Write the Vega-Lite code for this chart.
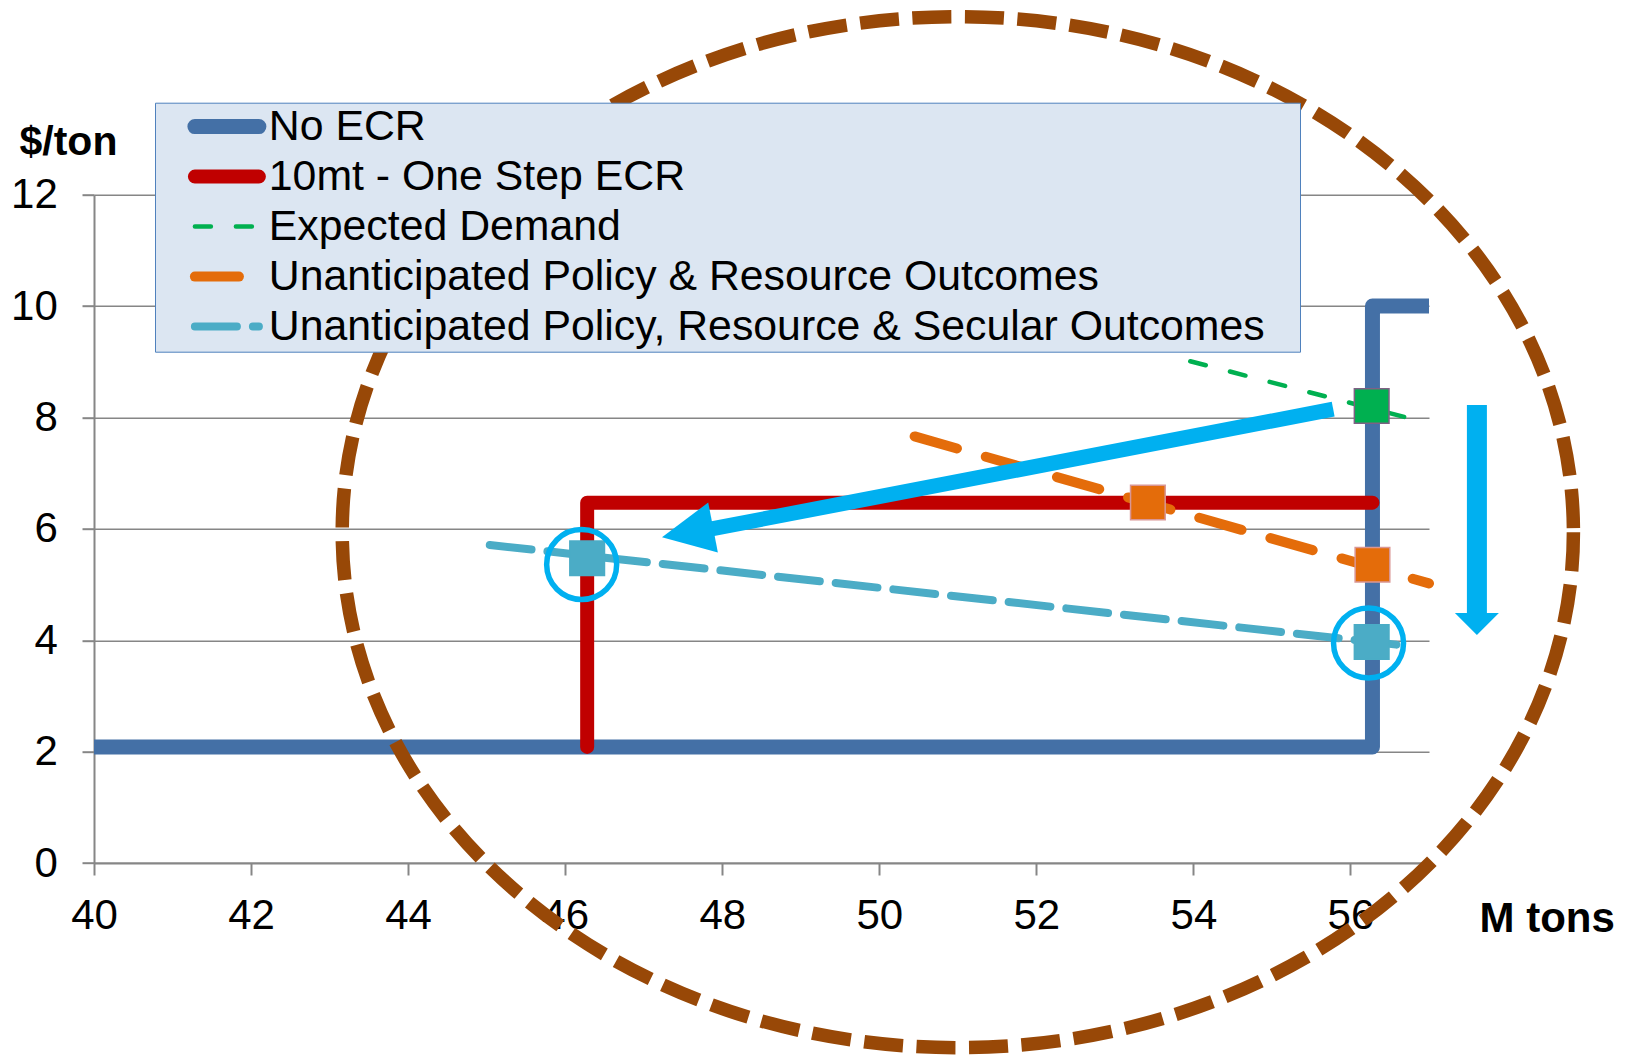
{
  "$schema": "https://vega.github.io/schema/vega-lite/v6.json",
  "autosize": {"type": "none"},
  "padding": {"left": 94, "top": 194.7, "right": 198, "bottom": 192},
  "width": 1335,
  "height": 668.3,
  "background": "#ffffff",
  "config": {
    "view": {"stroke": null},
    "font": "Liberation Sans",
    "legend": {
      "orient": "none",
      "legendX": 61,
      "legendY": -92,
      "padding": 2.5,
      "rowPadding": 6.0,
      "fillColor": "#DCE6F2",
      "strokeColor": "#4F81BD",
      "labelFont": "Liberation Sans",
      "labelFontSize": 42.8,
      "labelColor": "#000000",
      "labelLimit": 0,
      "symbolType": "M -16 0 L 16 0 M 531.3 0",
      "symbolSize": 16,
      "symbolOffset": 48,
      "labelOffset": 20.5,
      "title": null
    }
  },
  "datasets": {
    "lines": [
      {"series": "No ECR", "o": 1, "x": 40, "y": 2.085},
      {"series": "No ECR", "o": 2, "x": 56.28, "y": 2.085},
      {"series": "No ECR", "o": 3, "x": 56.28, "y": 10},
      {"series": "No ECR", "o": 4, "x": 57, "y": 10},
      {"series": "10mt - One Step ECR", "o": 1, "x": 46.28, "y": 2.085},
      {"series": "10mt - One Step ECR", "o": 2, "x": 46.28, "y": 6.47},
      {"series": "10mt - One Step ECR", "o": 3, "x": 56.28, "y": 6.47},
      {"series": "Expected Demand", "o": 1, "x": 53.96, "y": 9.01},
      {"series": "Expected Demand", "o": 2, "x": 56.82, "y": 7.96},
      {"series": "Unanticipated Policy & Resource Outcomes", "o": 1, "x": 50.45, "y": 7.66},
      {"series": "Unanticipated Policy & Resource Outcomes", "o": 2, "x": 57.0, "y": 5.02},
      {"series": "Unanticipated Policy, Resource & Secular Outcomes", "o": 1, "x": 45.04, "y": 5.71},
      {"series": "Unanticipated Policy, Resource & Secular Outcomes", "o": 2, "x": 56.72, "y": 3.9}
    ],
    "squares": [
      {"kind": "Expected Demand", "x": 56.27, "y": 8.206},
      {"kind": "Policy & Resource", "x": 53.42, "y": 6.473},
      {"kind": "Policy & Resource", "x": 56.28, "y": 5.356},
      {"kind": "Policy, Resource & Secular", "x": 46.28, "y": 5.473},
      {"kind": "Policy, Resource & Secular", "x": 56.27, "y": 3.968}
    ],
    "circles": [
      {"x": 46.21, "y": 5.36},
      {"x": 56.23, "y": 3.95}
    ],
    "shafts": [
      {"arrow": "shift", "o": 1, "x": 55.78, "y": 8.15},
      {"arrow": "shift", "o": 2, "x": 47.78, "y": 5.976},
      {"arrow": "drop", "o": 1, "x": 57.61, "y": 8.224},
      {"arrow": "drop", "o": 2, "x": 57.61, "y": 4.417}
    ],
    "heads": [
      {"arrow": "shift", "x": 47.558, "y": 5.936},
      {"arrow": "drop", "x": 57.61, "y": 4.292}
    ],
    "ellipse": [
      {"x": 51.0, "y": 5.94}
    ]
  },
  "encoding": {
    "x": {
      "field": "x",
      "type": "quantitative",
      "scale": {"domain": [40, 57], "nice": false, "zero": false},
      "axis": {
        "values": [40, 42, 44, 46, 48, 50, 52, 54, 56],
        "grid": false,
        "domainColor": "#868686",
        "domainWidth": 2,
        "tickColor": "#868686",
        "tickWidth": 2,
        "tickSize": 12,
        "labelFont": "Liberation Sans",
        "labelFontSize": 42,
        "labelColor": "#000000",
        "labelPadding": 20,
        "labelFlush": false,
        "labelOverlap": false,
        "title": "M tons",
        "titleFont": "Liberation Sans",
        "titleFontSize": 42,
        "titleFontWeight": "bold",
        "titleColor": "#000000",
        "titleAngle": 0,
        "titleAlign": "left",
        "titleBaseline": "alphabetic",
        "titleX": 1385,
        "titleY": 68.7
      }
    },
    "y": {
      "field": "y",
      "type": "quantitative",
      "scale": {"domain": [0, 12], "nice": false, "zero": false},
      "axis": {
        "values": [0, 2, 4, 6, 8, 10, 12],
        "grid": true,
        "gridColor": "#868686",
        "gridWidth": 1.6,
        "domainColor": "#868686",
        "domainWidth": 2,
        "tickColor": "#868686",
        "tickWidth": 2,
        "tickSize": 12,
        "labelFont": "Liberation Sans",
        "labelFontSize": 42,
        "labelColor": "#000000",
        "labelPadding": 24.7,
        "labelOverlap": false,
        "title": "$/ton",
        "titleFont": "Liberation Sans",
        "titleFontSize": 41,
        "titleFontWeight": "bold",
        "titleColor": "#000000",
        "titleAngle": 0,
        "titleAlign": "left",
        "titleBaseline": "alphabetic",
        "titleX": -75,
        "titleY": -40.4
      }
    }
  },
  "layer": [
    {
      "data": {"name": "lines"},
      "transform": [{"filter": "datum.series === 'No ECR'"}],
      "mark": {"type": "line", "strokeCap": "butt", "strokeJoin": "round"},
      "encoding": {
        "order": {"field": "o", "type": "quantitative"},
        "color": {
          "field": "series", "type": "nominal",
          "legend": {"encoding": {"symbols": {"strokeJoin": {"value": "round"}, "strokeCap": {"value": "round"}}}},
          "scale": {
            "domain": ["No ECR", "10mt - One Step ECR", "Expected Demand", "Unanticipated Policy & Resource Outcomes", "Unanticipated Policy, Resource & Secular Outcomes"],
            "range": ["#4470A6", "#C00000", "#00B050", "#E46C0A", "#4BACC6"]
          }
        },
        "strokeDash": {
          "field": "series", "type": "nominal",
          "legend": {"encoding": {"symbols": {"strokeJoin": {"value": "round"}, "strokeCap": {"value": "round"}}}},
          "scale": {
            "domain": ["No ECR", "10mt - One Step ECR", "Expected Demand", "Unanticipated Policy & Resource Outcomes", "Unanticipated Policy, Resource & Secular Outcomes"],
            "range": [[1, 0], [1, 0], [16, 25], [44, 30], [42, 16]]
          }
        },
        "strokeWidth": {
          "field": "series", "type": "nominal",
          "legend": {"encoding": {"symbols": {"strokeJoin": {"value": "round"}, "strokeCap": {"value": "round"}}}},
          "scale": {
            "type": "ordinal",
            "domain": ["No ECR", "10mt - One Step ECR", "Expected Demand", "Unanticipated Policy & Resource Outcomes", "Unanticipated Policy, Resource & Secular Outcomes"],
            "range": [15, 14, 4.5, 10, 8]
          }
        }
      }
    },
    {
      "data": {"name": "lines"},
      "transform": [{"filter": "datum.series !== 'No ECR'"}],
      "mark": {"type": "line", "strokeCap": "round", "strokeJoin": "round"},
      "encoding": {
        "order": {"field": "o", "type": "quantitative"},
        "color": {
          "field": "series", "type": "nominal",
          "legend": {"encoding": {"symbols": {"strokeJoin": {"value": "round"}, "strokeCap": {"value": "round"}}}},
          "scale": {
            "domain": ["No ECR", "10mt - One Step ECR", "Expected Demand", "Unanticipated Policy & Resource Outcomes", "Unanticipated Policy, Resource & Secular Outcomes"],
            "range": ["#4470A6", "#C00000", "#00B050", "#E46C0A", "#4BACC6"]
          }
        },
        "strokeDash": {
          "field": "series", "type": "nominal",
          "legend": {"encoding": {"symbols": {"strokeJoin": {"value": "round"}, "strokeCap": {"value": "round"}}}},
          "scale": {
            "domain": ["No ECR", "10mt - One Step ECR", "Expected Demand", "Unanticipated Policy & Resource Outcomes", "Unanticipated Policy, Resource & Secular Outcomes"],
            "range": [[1, 0], [1, 0], [16, 25], [44, 30], [42, 16]]
          }
        },
        "strokeWidth": {
          "field": "series", "type": "nominal",
          "legend": {"encoding": {"symbols": {"strokeJoin": {"value": "round"}, "strokeCap": {"value": "round"}}}},
          "scale": {
            "type": "ordinal",
            "domain": ["No ECR", "10mt - One Step ECR", "Expected Demand", "Unanticipated Policy & Resource Outcomes", "Unanticipated Policy, Resource & Secular Outcomes"],
            "range": [15, 14, 4.5, 10, 8]
          }
        }
      }
    },
    {
      "data": {"name": "squares"},
      "mark": {"type": "point", "shape": "square", "filled": true, "size": 1200, "opacity": 1, "strokeWidth": 1.5},
      "encoding": {
        "fill": {
          "field": "kind", "type": "nominal", "legend": null,
          "scale": {"domain": ["Expected Demand", "Policy & Resource", "Policy, Resource & Secular"], "range": ["#00B050", "#E46C0A", "#4BACC6"]}
        },
        "stroke": {
          "field": "kind", "type": "nominal", "legend": null,
          "scale": {"domain": ["Expected Demand", "Policy & Resource", "Policy, Resource & Secular"], "range": ["#7F6084", "#D99694", "#4BACC6"]}
        }
      }
    },
    {
      "data": {"name": "circles"},
      "mark": {"type": "point", "shape": "circle", "filled": false, "size": 4900, "opacity": 1, "stroke": "#00B0F0", "strokeWidth": 5.5}
    },
    {
      "data": {"name": "shafts"},
      "transform": [{"filter": "datum.arrow === 'shift'"}],
      "mark": {"type": "line", "stroke": "#00B0F0", "strokeWidth": 15, "strokeCap": "butt"},
      "encoding": {"order": {"field": "o", "type": "quantitative"}}
    },
    {
      "data": {"name": "shafts"},
      "transform": [{"filter": "datum.arrow === 'drop'"}],
      "mark": {"type": "line", "stroke": "#00B0F0", "strokeWidth": 20, "strokeCap": "butt"},
      "encoding": {"order": {"field": "o", "type": "quantitative"}}
    },
    {
      "data": {"name": "heads"},
      "transform": [{"filter": "datum.arrow === 'shift'"}],
      "mark": {"type": "point", "shape": "M -1 0 L 1 -0.98 L 1 0.98 Z", "size": 2704, "angle": 349.1, "filled": true, "fill": "#00B0F0", "strokeWidth": 0, "opacity": 1}
    },
    {
      "data": {"name": "heads"},
      "transform": [{"filter": "datum.arrow === 'drop'"}],
      "mark": {"type": "point", "shape": "M -1 -0.5 L 1 -0.5 L 0 0.5 Z", "size": 1936, "filled": true, "fill": "#00B0F0", "strokeWidth": 0, "opacity": 1}
    },
    {
      "data": {"name": "ellipse"},
      "mark": {
        "type": "point",
        "shape": "M 1 0 C 1 0.4625 0.5523 0.8374 0 0.8374 C -0.5523 0.8374 -1 0.4625 -1 0 C -1 -0.4625 -0.5523 -0.8374 0 -0.8374 C 0.5523 -0.8374 1 -0.4625 1 0 Z",
        "size": 1515853,
        "filled": false,
        "stroke": "#984807",
        "strokeWidth": 13.5,
        "strokeDash": [39, 13.5],
        "strokeCap": "butt",
        "opacity": 1
      }
    }
  ]
}
